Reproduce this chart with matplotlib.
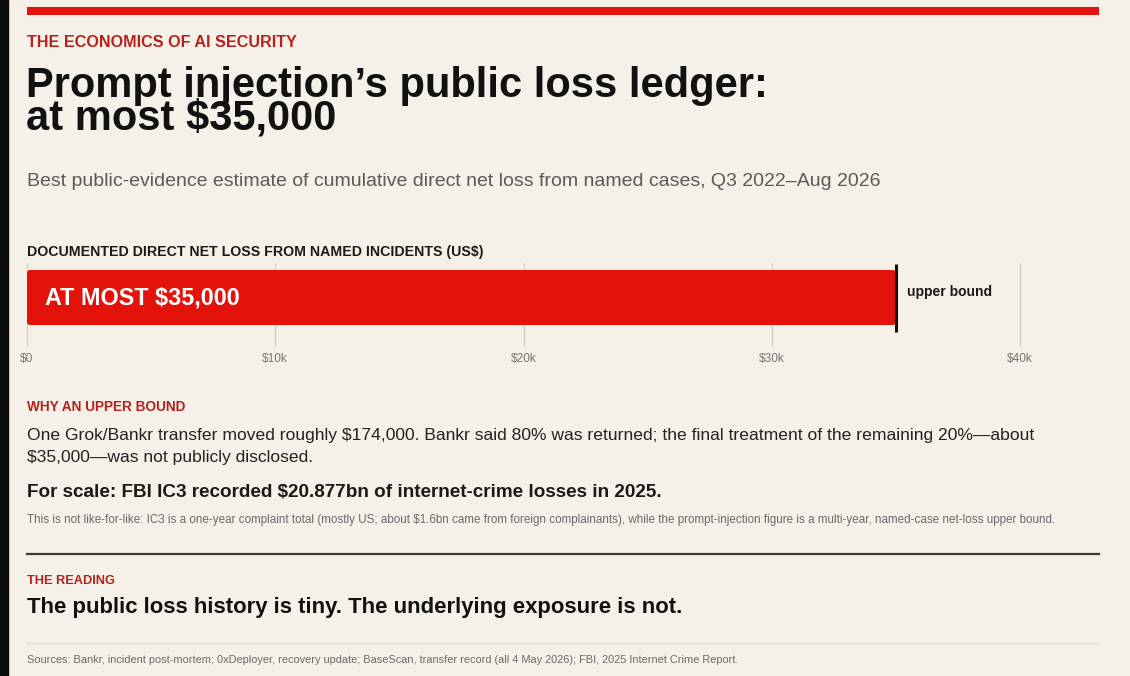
import matplotlib
matplotlib.use("Agg")
import matplotlib.pyplot as plt
from matplotlib.patches import FancyBboxPatch, Rectangle

plt.rcParams["font.family"] = ["Liberation Sans", "DejaVu Sans"]

W, H = 1130, 676
BG = "#f5f0e8"
RED = "#e3120b"
KICK = "#b7211b"
INK = "#1a1a1a"
GREY = "#5a5a5a"

# data
loss_upper = 35000
tick_vals = [0, 10000, 20000, 30000, 40000]
tick_labels = ["$0", "$10k", "$20k", "$30k", "$40k"]
bar_label = "AT MOST $35,000"
marker_label = "upper bound"

kicker = "THE ECONOMICS OF AI SECURITY"
title_lines = ["Prompt injection\u2019s public loss ledger:", "at most $35,000"]
subtitle = "Best public-evidence estimate of cumulative direct net loss from named cases, Q3 2022\u2013Aug 2026"
chart_label = "DOCUMENTED DIRECT NET LOSS FROM NAMED INCIDENTS (US$)"
why_head = "WHY AN UPPER BOUND"
why_lines = ["One Grok/Bankr transfer moved roughly $174,000. Bankr said 80% was returned; the final treatment of the remaining 20%\u2014about",
             "$35,000\u2014was not publicly disclosed."]
scale_line = "For scale: FBI IC3 recorded $20.877bn of internet-crime losses in 2025."
scale_note = ("This is not like-for-like: IC3 is a one-year complaint total (mostly US; about $1.6bn came from foreign complainants), "
              "while the prompt-injection figure is a multi-year, named-case net-loss upper bound.")
reading_head = "THE READING"
reading = "The public loss history is tiny. The underlying exposure is not."
sources = ("Sources: Bankr, incident post-mortem; 0xDeployer, recovery update; BaseScan, transfer record (all 4 May 2026); "
           "FBI, 2025 Internet Crime Report.")

fig = plt.figure(figsize=(W / 100, H / 100), dpi=100, facecolor=BG)


def fx(x):
    return x / W


def fy(y):
    return 1 - y / H


def txt(x, y, s, size, color=INK, weight="normal", **kw):
    fig.text(fx(x), fy(y), s, fontsize=size, color=color, fontweight=weight,
             va="baseline", ha="left", **kw)


# left dark strip and top red rule
fig.add_artist(Rectangle((0, 0), fx(8), 1, transform=fig.transFigure, color="#0b0b0b", zorder=10))
fig.add_artist(Rectangle((fx(27), fy(15)), fx(1099 - 27), 8 / H, transform=fig.transFigure,
                         color=RED, lw=0))

txt(27, 47, kicker, 11.6, KICK, "bold")
txt(26, 97, title_lines[0], 30, "#111111", "bold")
txt(26, 130, title_lines[1], 30, "#111111", "bold")
txt(27, 186, subtitle, 14, GREY)
txt(27, 256, chart_label, 10.2, INK, "bold")

# bar chart axes: 0 at x=27px, 40k at x=1020px
x0_px, x40_px, right_px = 27, 1020, 1099
ax_top, ax_bot = 263, 347
ax = fig.add_axes([fx(x0_px), fy(ax_bot), fx(right_px - x0_px), (ax_bot - ax_top) / H])
ax.set_facecolor("none")
xmax = tick_vals[-1] * (right_px - x0_px) / (x40_px - x0_px)
ax.set_xlim(0, xmax)
ax.set_ylim(0, ax_bot - ax_top)
for s in ax.spines.values():
    s.set_visible(False)
ax.set_yticks([])
ax.set_xticks(tick_vals)
ax.set_xticklabels(tick_labels, fontsize=8.6, color="#777777")
ax.tick_params(axis="x", length=0, pad=4)
for v in tick_vals:
    ax.axvline(v, color="#cfcac2", lw=0.9, zorder=1)

px = xmax / (right_px - x0_px)  # data units per pixel along x
bar = FancyBboxPatch((0, ax_bot - 325), loss_upper, 325 - 270,
                     boxstyle="round,pad=0,rounding_size=%f" % (3 * px),
                     mutation_aspect=1 / px, fc=RED, ec="none", zorder=3)
ax.add_patch(bar)
ax.plot([loss_upper, loss_upper], [ax_bot - 332, ax_bot - 264], color="#111111", lw=2.2,
        zorder=4, solid_capstyle="butt")
ax.text(18 * px, ax_bot - 297.5, bar_label, color="white", fontsize=16.8, fontweight="bold",
        va="center", ha="left", zorder=5)
ax.text(loss_upper + 11 * px, ax_bot - 292, marker_label, color=INK, fontsize=10,
        fontweight="bold", va="center", ha="left", zorder=5)

txt(27, 411, why_head, 9.8, KICK, "bold")
txt(27, 440, why_lines[0], 12.6, "#222222")
txt(27, 462, why_lines[1], 12.6, "#222222")
txt(27, 497, scale_line, 13.6, INK, "bold")
txt(27, 523, scale_note, 8.4, "#6a6a6a")

fig.add_artist(plt.Line2D([fx(27), fx(1099)], [fy(554), fy(554)], color="#3a3a3a", lw=1.6))
txt(27, 584, reading_head, 9.2, KICK, "bold")
txt(27, 613, reading, 15.9, "#111111", "bold")
fig.add_artist(plt.Line2D([fx(27), fx(1099)], [fy(643), fy(643)], color="#e0dbd3", lw=1.0))
txt(27, 663, sources, 7.95, "#6a6a6a")

fig.savefig("out.png", dpi=100, facecolor=BG)
